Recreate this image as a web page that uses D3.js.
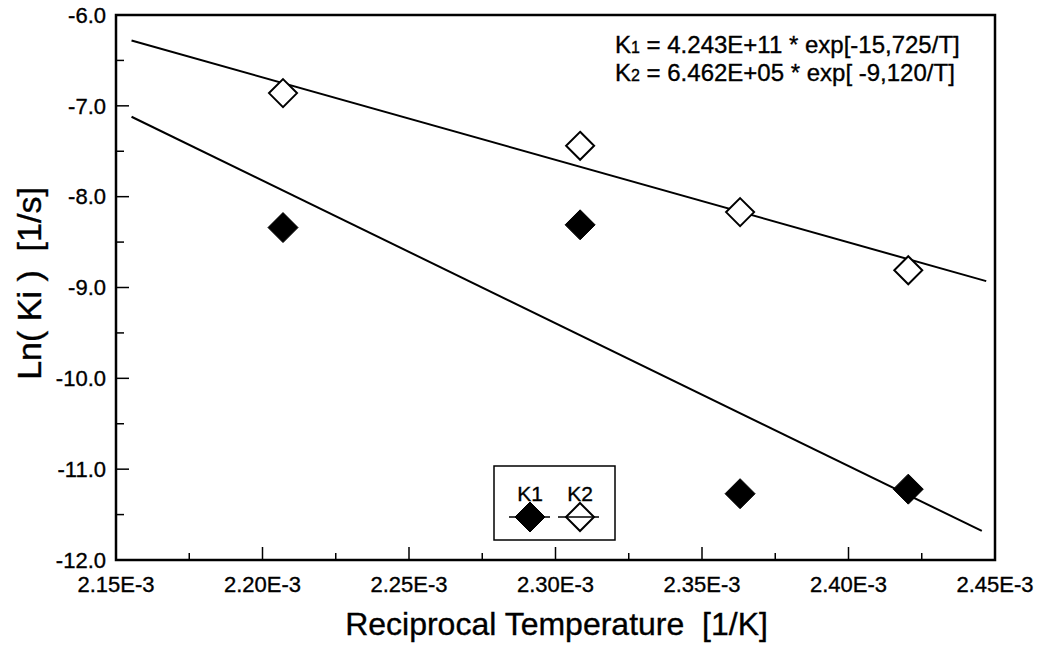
<!DOCTYPE html>
<html>
<head>
<meta charset="utf-8">
<script src="https://cdn.jsdelivr.net/npm/d3@7"></script>
<style>
  body { margin: 0; background: #fff; }
  text { font-family: "Liberation Sans", Arial, sans-serif; fill: #000; white-space: pre; stroke: #000; stroke-width: 0.35px; }
</style>
</head>
<body>
<div class="chart"></div>
<script>
// reciprocal temperature of each run [1/K]
var recipT = [2.2070e-3, 2.3084e-3, 2.3630e-3, 2.4204e-3];
// ln of rate constants
var lnK1 = [-8.34, -8.31, -11.27, -11.22];
var lnK2 = [-6.86, -7.44, -8.17, -8.81];
// fitted Arrhenius lines (end points)
var fitK1 = [[2.1553e-3, -7.12], [2.4455e-3, -11.68]];
var fitK2 = [[2.1553e-3, -6.28], [2.4470e-3, -8.93]];

var xTicks = [2.15e-3, 2.20e-3, 2.25e-3, 2.30e-3, 2.35e-3, 2.40e-3, 2.45e-3];
var xTickLabels = ["2.15E-3", "2.20E-3", "2.25E-3", "2.30E-3", "2.35E-3", "2.40E-3", "2.45E-3"];
var yTicks = [-6, -7, -8, -9, -10, -11, -12];
var yTickLabels = ["-6.0", "-7.0", "-8.0", "-9.0", "-10.0", "-11.0", "-12.0"];
var equations = [
  {k: "K", sub: "1", rest: " = 4.243E+11 * exp[-15,725/T]"},
  {k: "K", sub: "2", rest: " = 6.462E+05 * exp[ -9,120/T]"}
];

var svgWidth = 1040;
var svgHeight = 646;
var margin = {top: 15, right: 45, bottom: 86, left: 116};
var width = svgWidth - margin.left - margin.right;
var height = svgHeight - margin.top - margin.bottom;

var svg = d3.select(".chart")
  .append("svg")
  .attr("width", svgWidth)
  .attr("height", svgHeight)
  .append("g")
  .attr("transform", "translate(" + margin.left + "," + margin.top + ")");

var x = d3.scaleLinear().domain([2.15e-3, 2.45e-3]).range([0, width]);
var y = d3.scaleLinear().domain([-12, -6]).range([height, 0]);

// minor ticks every 0.025E-3 on x, every 0.5 on y
var xMinor = d3.range(0, 13).map(function(i) { return 2.15e-3 + i * 0.025e-3; });
var yMinor = d3.range(0, 13).map(function(i) { return -12 + i * 0.5; });

svg.append("g").selectAll("line")
  .data(xMinor)
  .enter().append("line")
  .attr("x1", function(d) { return x(d); })
  .attr("x2", function(d) { return x(d); })
  .attr("y1", height)
  .attr("y2", function(d, i) { return height - (i % 2 === 0 ? 13 : 7); })
  .attr("stroke", "#000")
  .attr("stroke-width", 1.5);

svg.append("g").selectAll("line")
  .data(yMinor)
  .enter().append("line")
  .attr("y1", function(d) { return y(d); })
  .attr("y2", function(d) { return y(d); })
  .attr("x1", 0)
  .attr("x2", function(d, i) { return i % 2 === 0 ? 13 : 8; })
  .attr("stroke", "#000")
  .attr("stroke-width", 1.5);

// tick labels
svg.append("g").selectAll("text")
  .data(xTicks)
  .enter().append("text")
  .attr("x", function(d) { return x(d); })
  .attr("y", height + 32)
  .attr("text-anchor", "middle")
  .attr("font-size", "22px")
  .text(function(d, i) { return xTickLabels[i]; });

svg.append("g").selectAll("text")
  .data(yTicks)
  .enter().append("text")
  .attr("x", -10)
  .attr("y", function(d) { return y(d); })
  .attr("dy", "0.35em")
  .attr("text-anchor", "end")
  .attr("font-size", "22px")
  .text(function(d, i) { return yTickLabels[i]; });

// frame
svg.append("rect")
  .attr("width", width)
  .attr("height", height)
  .attr("fill", "none")
  .attr("stroke", "#000")
  .attr("stroke-width", 2.5);

// fit lines
var line = d3.line()
  .x(function(d) { return x(d[0]); })
  .y(function(d) { return y(d[1]); });

[fitK1, fitK2].forEach(function(f) {
  svg.append("path")
    .datum(f)
    .attr("d", line)
    .attr("fill", "none")
    .attr("stroke", "#000")
    .attr("stroke-width", 2);
});

var diamond = "M0,-15L15,0L0,15L-15,0Z";
var openDiamond = "M0,-14L14,0L0,14L-14,0Z";

svg.append("g").selectAll("path")
  .data(recipT)
  .enter().append("path")
  .attr("transform", function(d, i) { return "translate(" + x(d) + "," + y(lnK1[i]) + ")"; })
  .attr("d", diamond)
  .attr("fill", "#000")
  .attr("stroke", "#000")
  .attr("stroke-linejoin", "round")
  .attr("stroke-width", 1);

svg.append("g").selectAll("path")
  .data(recipT)
  .enter().append("path")
  .attr("transform", function(d, i) { return "translate(" + x(d) + "," + y(lnK2[i]) + ")"; })
  .attr("d", openDiamond)
  .attr("fill", "#fff")
  .attr("stroke", "#000")
  .attr("stroke-width", 2);

// equations
var eq = svg.append("g").selectAll("text")
  .data(equations)
  .enter().append("text")
  .attr("x", 499)
  .attr("y", function(d, i) { return 38 + i * 28; })
  .attr("font-size", "24px");
eq.append("tspan").text(function(d) { return d.k; });
eq.append("tspan").attr("font-size", "16px").text(function(d) { return d.sub; });
eq.append("tspan").text(function(d) { return d.rest; });

// legend
var legend = svg.append("g").attr("transform", "translate(378,451)");
legend.append("rect")
  .attr("width", 121)
  .attr("height", 74)
  .attr("fill", "#fff")
  .attr("stroke", "#000")
  .attr("stroke-width", 1.5);
legend.append("text").attr("x", 36).attr("y", 35).attr("text-anchor", "middle")
  .attr("font-size", "21px").text("K1");
legend.append("text").attr("x", 86).attr("y", 35).attr("text-anchor", "middle")
  .attr("font-size", "21px").text("K2");
legend.append("line").attr("x1", 15).attr("x2", 56).attr("y1", 51).attr("y2", 51)
  .attr("stroke", "#000").attr("stroke-width", 1.5);
legend.append("path").attr("transform", "translate(36,51)").attr("d", diamond)
  .attr("fill", "#000").attr("stroke", "#000").attr("stroke-linejoin", "round");
legend.append("path").attr("transform", "translate(86,51)").attr("d", openDiamond)
  .attr("fill", "#fff").attr("stroke", "#000").attr("stroke-width", 2);
legend.append("line").attr("x1", 64).attr("x2", 105).attr("y1", 51).attr("y2", 51)
  .attr("stroke", "#000").attr("stroke-width", 1.5);

// axis titles
svg.append("text")
  .attr("transform", "rotate(-90)")
  .attr("x", -height / 2 + 4)
  .attr("y", -margin.left + 41)
  .attr("text-anchor", "middle")
  .attr("font-size", "34px")
  .text("Ln( Ki )  [1/s]");

svg.append("text")
  .attr("x", width / 2 + 1)
  .attr("y", height + 75)
  .attr("text-anchor", "middle")
  .attr("font-size", "32px")
  .text("Reciprocal Temperature  [1/K]");
</script>
</body>
</html>
